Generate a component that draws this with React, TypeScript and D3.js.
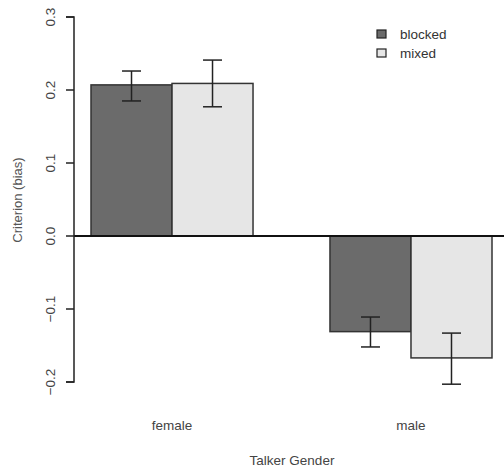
import React, { useEffect, useRef } from 'react';
import * as d3 from 'd3';

const genders = ['female', 'male'];
const conditions = ['blocked', 'mixed'];
const means = [
  [0.207, 0.209],
  [-0.131, -0.167],
];
const errLow = [
  [0.185, 0.177],
  [-0.152, -0.203],
];
const errHigh = [
  [0.226, 0.241],
  [-0.111, -0.133],
];
const yTicks = [-0.2, -0.1, 0.0, 0.1, 0.2, 0.3];
const fills = ['#6b6b6b', '#e6e6e6'];

export default function App() {
  const ref = useRef<SVGSVGElement>(null);
  const w = 504;
  const h = 468;

  useEffect(() => {
    const svg = d3.select(ref.current);
    svg.selectAll('*').remove();
    const font = 'Liberation Sans, Arial, sans-serif';
    const fs = 13.5;

    const y = d3.scaleLinear().domain([-0.2, 0.3]).range([382, 17]);
    const xGroup = d3.scaleBand().domain(genders).range([91, 492]).paddingInner(0.322);
    const xInner = d3.scaleBand().domain(conditions).range([0, xGroup.bandwidth()]);

    // bars
    genders.forEach((g, gi) => {
      conditions.forEach((c, ci) => {
        const v = means[gi][ci];
        const x0 = xGroup(g)! + xInner(c)!;
        svg.append('rect')
          .attr('x', x0)
          .attr('y', y(Math.max(0, v)))
          .attr('width', xInner.bandwidth())
          .attr('height', Math.abs(y(v) - y(0)))
          .attr('fill', fills[ci])
          .attr('stroke', '#333')
          .attr('stroke-width', 1.5);
      });
    });

    // zero line
    svg.append('line')
      .attr('x1', 74).attr('x2', w)
      .attr('y1', y(0)).attr('y2', y(0))
      .attr('stroke', '#111').attr('stroke-width', 2);

    // error bars
    genders.forEach((g, gi) => {
      conditions.forEach((c, ci) => {
        const cx = xGroup(g)! + xInner(c)! + xInner.bandwidth() / 2;
        const lo = y(errLow[gi][ci]);
        const hi = y(errHigh[gi][ci]);
        const e = svg.append('g').attr('stroke', '#222').attr('stroke-width', 1.5);
        e.append('line').attr('x1', cx).attr('x2', cx).attr('y1', lo).attr('y2', hi);
        e.append('line').attr('x1', cx - 9.5).attr('x2', cx + 9.5).attr('y1', lo).attr('y2', lo);
        e.append('line').attr('x1', cx - 9.5).attr('x2', cx + 9.5).attr('y1', hi).attr('y2', hi);
      });
    });

    // y axis
    const axis = svg.append('g').attr('transform', 'translate(74,0)')
      .call(d3.axisLeft(y).tickValues(yTicks).tickFormat(d3.format('.1f')).tickSize(8).tickPadding(0));
    axis.select('.domain').attr('stroke', '#222').attr('stroke-width', 1.5).attr('d', `M-8,${y(-0.2)}H0V${y(0.3)}H-8`);
    axis.selectAll('.tick line').attr('stroke', '#222').attr('stroke-width', 1.5);
    axis.selectAll('.tick text')
      .attr('x', 0).attr('y', 0).attr('dy', null)
      .attr('transform', (d: any) => `translate(-19,${y(d)}) rotate(-90)`)
      .attr('text-anchor', 'middle')
      .attr('font-family', font).attr('font-size', fs).attr('fill', '#444');
    axis.selectAll('.tick').attr('transform', null);
    axis.selectAll('.tick line').attr('y1', (d: any) => y(d)).attr('y2', (d: any) => y(d));

    svg.append('text')
      .attr('transform', 'translate(22,200) rotate(-90)')
      .attr('text-anchor', 'middle')
      .attr('font-family', font).attr('font-size', fs - 0.5).attr('fill', '#555')
      .text('Criterion (bias)');

    // x labels
    genders.forEach((g) => {
      svg.append('text')
        .attr('x', xGroup(g)! + xGroup.bandwidth() / 2)
        .attr('y', 430)
        .attr('text-anchor', 'middle')
        .attr('font-family', font).attr('font-size', fs).attr('fill', '#444')
        .text(g);
    });
    svg.append('text')
      .attr('x', 292).attr('y', 465)
      .attr('text-anchor', 'middle')
      .attr('font-family', font).attr('font-size', fs).attr('fill', '#444')
      .text('Talker Gender');

    // legend
    conditions.forEach((c, ci) => {
      const ly = 34 + ci * 19;
      svg.append('rect')
        .attr('x', 377).attr('y', ly - 4).attr('width', 9).attr('height', 8)
        .attr('fill', fills[ci]).attr('stroke', '#222').attr('stroke-width', 1.2);
      svg.append('text')
        .attr('x', 400).attr('y', ly + 5)
        .attr('font-family', font).attr('font-size', fs).attr('fill', '#333')
        .text(c);
    });
  }, []);

  return (
    <svg ref={ref} width={w} height={h}
      style={{ position: 'absolute', left: 0, top: 0, background: '#fff' }} />
  );
}
